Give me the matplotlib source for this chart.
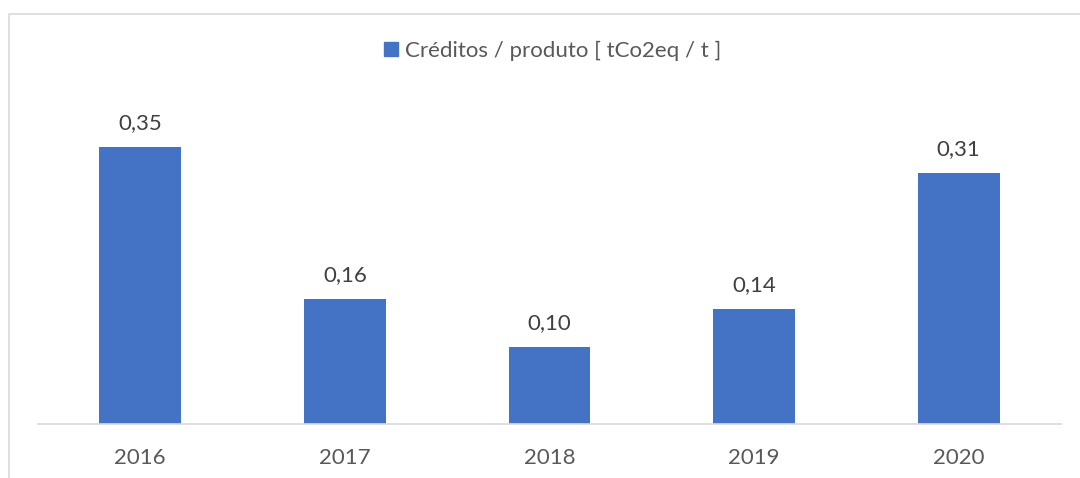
import matplotlib
matplotlib.use("Agg")
import matplotlib.pyplot as plt
from matplotlib.patches import Rectangle, Patch

years = ["2016", "2017", "2018", "2019", "2020"]
values = [0.346, 0.156, 0.096, 0.144, 0.314]
series_name = "Créditos / produto [ tCo2eq / t ]"

plt.rcParams['font.family'] = ['Lato', 'DejaVu Sans']

W, H = 1080, 478
fig = plt.figure(figsize=(W / 100, H / 100), dpi=100)

# outer chart frame
fig.patches.append(Rectangle((8.5 / W, -0.1), 1.2, 1 - 13.5 / H + 0.1,
                             transform=fig.transFigure, fill=False,
                             edgecolor="#D9D9D9", linewidth=1.2))

ax = fig.add_axes([38 / W, (H - 424) / H, (1061 - 38) / W, (424 - 104) / H])
x = range(len(years))
bars = ax.bar(x, values, width=0.4, color="#4472C4", zorder=2)
ax.set_xlim(-0.5, len(years) - 0.5)
ax.set_ylim(0, 0.4)
ax.set_xticks(list(x))
ax.set_xticklabels(years, fontsize=16, color="#595959")
ax.tick_params(axis='x', length=0, pad=17)
ax.set_yticks([])
for s in ["top", "right", "left"]:
    ax.spines[s].set_visible(False)
ax.spines["bottom"].set_color("#D9D9D9")
ax.spines["bottom"].set_linewidth(1.2)

for b, v in zip(bars, values):
    ax.annotate(f"{v:.2f}".replace(".", ","), (b.get_x() + b.get_width() / 2, v),
                xytext=(0, 14), textcoords="offset pixels", ha="center", va="bottom",
                fontsize=16, color="#404040")

fig.legend(handles=[Patch(color="#4472C4", label=series_name)],
           loc="center", bbox_to_anchor=(553 / W, 1 - 51 / H), frameon=False,
           fontsize=16, labelcolor="#595959", handlelength=0.6, handleheight=0.6,
           handletextpad=0.35)

fig.savefig("out.png", dpi=100)
